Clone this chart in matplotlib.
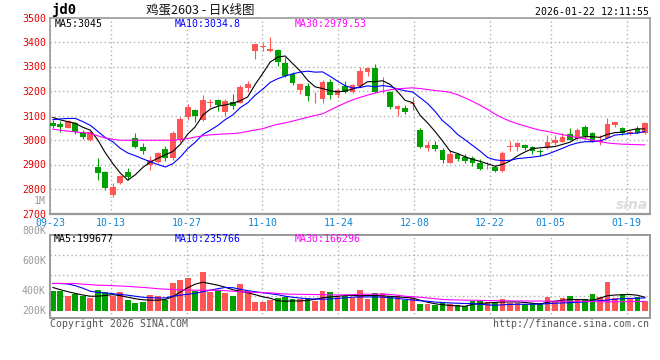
import numpy as np
import matplotlib.pyplot as plt

# jd0 egg futures, daily candles 2025-09-23 .. 2026-01-22 (80 sessions)
dates = ["09-23", "10-13", "10-27", "11-10", "11-24", "12-08", "12-22", "01-05", "01-19"]
date_idx = [0, 8, 18, 28, 38, 48, 58, 66, 76]

opens = [3070, 3067, 3051, 3070, 3032, 2999, 2891, 2870, 2775, 2826,
         2870, 3010, 2972, 2898, 2911, 2962, 2925, 2999, 3092, 3122,
         3081, 3149, 3162, 3115, 3155, 3151, 3214, 3363, 3379, 3363,
         3366, 3314, 3271, 3203, 3220, 3174, 3169, 3237, 3183, 3220,
         3196, 3220, 3278, 3295, 3227, 3196, 3127, 3131, 3147, 3040,
         2968, 2979, 2959, 2907, 2942, 2929, 2925, 2905, 2888, 2888,
         2874, 2973, 2970, 2979, 2970, 2956, 2966, 2986, 2993, 3024,
         3006, 3054, 3030, 2993, 3010, 3061, 3051, 3024, 3043, 3027]
highs = [3081, 3077, 3081, 3075, 3040, 3038, 2925, 2875, 2823, 2858,
         2887, 3027, 2986, 2934, 2952, 2976, 3035, 3094, 3146, 3128,
         3183, 3169, 3169, 3169, 3187, 3223, 3241, 3393, 3395, 3420,
         3370, 3339, 3278, 3233, 3233, 3196, 3244, 3247, 3210, 3241,
         3228, 3298, 3298, 3312, 3257, 3200, 3142, 3142, 3176, 3047,
         2997, 2997, 2966, 2959, 2948, 2942, 2935, 2921, 2911, 2898,
         2955, 2997, 2993, 2983, 2975, 2962, 3020, 3020, 3027, 3047,
         3050, 3061, 3034, 3020, 3088, 3074, 3054, 3040, 3056, 3072]
lows = [3051, 3033, 3047, 3023, 3005, 2995, 2836, 2795, 2768, 2820,
        2837, 2966, 2942, 2877, 2905, 2915, 2920, 2993, 3081, 3074,
        3078, 3135, 3118, 3097, 3125, 3149, 3196, 3332, 3363, 3360,
        3302, 3257, 3223, 3187, 3160, 3151, 3151, 3166, 3176, 3190,
        3192, 3217, 3261, 3190, 3192, 3125, 3097, 3106, 3122, 2966,
        2956, 2956, 2905, 2905, 2916, 2907, 2894, 2877, 2880, 2870,
        2870, 2956, 2956, 2960, 2942, 2934, 2963, 2979, 2990, 2999,
        3002, 3006, 2990, 2979, 3010, 3054, 3020, 3020, 3027, 3024]
closes = [3059, 3054, 3078, 3033, 3013, 3033, 2866, 2803, 2807, 2853,
          2850, 2972, 2955, 2918, 2948, 2925, 3027, 3084, 3133, 3097,
          3162, 3155, 3142, 3160, 3138, 3217, 3230, 3390, 3383, 3370,
          3318, 3261, 3233, 3228, 3180, 3176, 3237, 3183, 3206, 3196,
          3223, 3282, 3295, 3196, 3230, 3133, 3138, 3113, 3150, 2972,
          2979, 2963, 2918, 2942, 2922, 2914, 2907, 2881, 2891, 2874,
          2948, 2975, 2989, 2968, 2956, 2951, 2991, 2999, 3013, 3002,
          3040, 3016, 2993, 3002, 3065, 3074, 3027, 3033, 3030, 3068]

ma5 = [3092, 3082, 3075, 3068, 3052, 3040, 3000, 2948, 2904, 2865,
       2836, 2858, 2888, 2910, 2925, 2940, 2953, 2982, 3024, 3054,
       3101, 3126, 3138, 3143, 3150, 3160, 3176, 3227, 3271, 3318,
       3338, 3343, 3312, 3282, 3244, 3217, 3210, 3201, 3196, 3200,
       3208, 3218, 3238, 3238, 3242, 3227, 3198, 3162, 3153, 3101,
       3070, 3035, 2996, 2955, 2945, 2932, 2921, 2913, 2903, 2893,
       2900, 2914, 2935, 2951, 2965, 2968, 2971, 2973, 2982, 2991,
       3009, 3014, 3013, 3011, 3023, 3030, 3032, 3040, 3046, 3045]
ma10 = [3083, 3086, 3088, 3088, 3075, 3060, 3035, 3010, 2993, 2966,
        2947, 2936, 2923, 2911, 2900, 2890, 2903, 2930, 2965, 2991,
        3022, 3040, 3059, 3083, 3102, 3132, 3152, 3183, 3207, 3235,
        3250, 3261, 3270, 3277, 3281, 3277, 3278, 3260, 3240, 3222,
        3212, 3214, 3221, 3217, 3222, 3218, 3208, 3201, 3196, 3173,
        3149, 3117, 3079, 3054, 3023, 3001, 2978, 2955, 2929, 2919,
        2916, 2917, 2924, 2927, 2930, 2934, 2942, 2954, 2966, 2979,
        2988, 2993, 2993, 2996, 3007, 3020, 3023, 3027, 3028, 3035]
ma30 = [3044, 3040, 3036, 3033, 3030, 3027, 3017, 3008, 3003, 2999,
        2999, 2999, 2999, 2999, 2999, 2999, 2999, 3002, 3006, 3012,
        3017, 3021, 3023, 3025, 3026, 3029, 3035, 3041, 3046, 3056,
        3064, 3070, 3077, 3085, 3093, 3100, 3107, 3122, 3137, 3151,
        3164, 3174, 3183, 3192, 3199, 3205, 3209, 3211, 3213, 3210,
        3206, 3202, 3199, 3195, 3185, 3172, 3158, 3142, 3125, 3106,
        3090, 3077, 3066, 3057, 3048, 3040, 3035, 3028, 3022, 3016,
        3010, 3005, 2999, 2993, 2988, 2985, 2983, 2982, 2981, 2980]

# volume, in K, as read against the panel's labels (bars rise from the 200K line)
vol = [400, 400, 353, 370, 353, 330, 410, 397, 353, 390,
       310, 280, 290, 360, 353, 310, 483, 510, 530, 400,
       590, 390, 410, 380, 350, 470, 400, 290, 290, 310,
       330, 340, 320, 320, 330, 300, 400, 390, 353, 353,
       333, 410, 320, 380, 380, 353, 353, 310, 333, 270,
       270, 260, 283, 270, 260, 250, 300, 300, 293, 283,
       320, 280, 280, 270, 280, 280, 340, 300, 330, 353,
       320, 320, 370, 340, 490, 330, 370, 320, 340, 300]
vol_ma5 = [437, 415, 395, 378, 362, 350, 350, 358, 366, 355,
           340, 325, 315, 310, 310, 318, 345, 392, 435, 470,
           490, 475, 460, 440, 415, 400, 385, 365, 345, 330,
           305, 300, 303, 303, 308, 320, 335, 342, 350, 357,
           358, 354, 358, 357, 353, 349, 344, 338, 333, 310,
           290, 275, 265, 258, 253, 250, 268, 278, 283, 288,
           292, 293, 293, 288, 280, 272, 290, 300, 310, 317,
           317, 315, 310, 330, 355, 362, 365, 367, 360, 340]
vol_ma10 = [477, 477, 472, 455, 430, 400, 388, 383, 375, 368,
            360, 350, 340, 335, 333, 333, 350, 360, 370, 378,
            395, 410, 425, 437, 435, 420, 405, 395, 385, 375,
            365, 350, 340, 332, 325, 322, 320, 322, 328, 335,
            340, 343, 343, 343, 340, 335, 328, 320, 312, 305,
            300, 292, 287, 283, 280, 278, 276, 270, 264, 260,
            264, 268, 270, 270, 270, 272, 276, 280, 283, 286,
            290, 294, 300, 305, 312, 320, 326, 328, 330, 333]
vol_ma30 = [477, 477, 477, 477, 470, 465, 460, 458, 455, 452,
            448, 443, 438, 432, 425, 420, 417, 413, 411, 410,
            410, 410, 410, 405, 400, 395, 392, 388, 385, 383,
            378, 372, 370, 369, 368, 367, 366, 364, 362, 364,
            366, 370, 370, 370, 370, 368, 360, 350, 345, 340,
            333, 325, 318, 315, 313, 311, 310, 308, 307, 306,
            305, 304, 303, 303, 302, 302, 301, 300, 300, 300,
            299, 298, 297, 295, 294, 294, 295, 296, 297, 298]
vol_labels = ["200K", "400K", "600K", "800K"]
vol_label_pos = [200, 400, 700, 1000]

UP = "#ff5555"
DOWN = "#00a000"
GRID = "#b0b0b0"
MONO = "DejaVu Sans Mono"
FS = 7.1


def px(xp, yp):
    # pixel position of the 660x360 picture -> figure fraction
    return xp / 660, 1 - yp / 360


fig = plt.figure(figsize=(6.6, 3.6), dpi=100)
ax = fig.add_axes([50 / 660, 1 - 213.5 / 360, 599.5 / 660, 196 / 360])
axv = fig.add_axes([50 / 660, 1 - 318.3 / 360, 599.5 / 660, 83.6 / 360])

n = len(closes)
x = np.arange(n)
bw = 0.76
cx = x + bw / 2
o = np.array(opens)
c = np.array(closes)
colors = [UP if cc >= oo else DOWN for oo, cc in zip(o, c)]

# the date grid is spread over 0..79 across the full width, like sina does
grid_x = [i * n / (n - 1) for i in date_idx]

# price panel
for gx in grid_x:
    ax.axvline(gx, color=GRID, lw=1, ls=(0, (1, 2)), zorder=0)
for p in range(2800, 3500, 100):
    ax.axhline(p, color=GRID, lw=1, ls=(0, (1, 2)), zorder=0)

ax.vlines(cx, lows, highs, colors=colors, lw=0.8, zorder=2)
ax.bar(x, np.maximum(np.abs(c - o), 3), bw, bottom=np.minimum(o, c), align="edge",
       color=colors, lw=0, zorder=3, antialiased=False)
ax.plot(cx, ma5, color="black", lw=0.8, zorder=4)
ax.plot(cx, ma10, color="#0000ff", lw=0.8, zorder=4)
ax.plot(cx, ma30, color="#ff00ff", lw=0.8, zorder=4)

ax.set_xlim(0, n)
ax.set_ylim(2700, 3500)
ax.set_xticks(grid_x)
ax.set_xticklabels(dates, family=MONO, fontsize=FS, color="#0f84d4")
ax.set_yticks(range(2700, 3501, 100))
ax.set_yticklabels([str(p) for p in range(2700, 3501, 100)], family=MONO, fontsize=FS,
                   color="#e60000")
ax.tick_params(length=0, pad=3)
ax.tick_params(axis="x", pad=3.2)
for s in ax.spines.values():
    s.set_color("#999999")
    s.set_linewidth(1.2)
ax.spines["bottom"].set_linestyle((0, (1, 1)))
ax.spines["bottom"].set_linewidth(1.6)

# volume panel
for gx in grid_x:
    axv.axvline(gx, color=GRID, lw=1, ls=(0, (1, 2)), zorder=0)
for gy in [357, 557, 757]:
    axv.axhline(gy, color=GRID, lw=1, ls=(0, (1, 2)), zorder=0)
axv.bar(x, np.array(vol) - 200, bw, bottom=200, align="edge", color=colors, lw=0,
        zorder=2, antialiased=False)
axv.plot(cx, vol_ma5, color="black", lw=0.8, zorder=3)
axv.plot(cx, vol_ma10, color="#0000ff", lw=0.8, zorder=3)
axv.plot(cx, vol_ma30, color="#ff00ff", lw=0.8, zorder=3)
axv.set_xlim(0, n)
axv.set_ylim(130, 963)
axv.set_xticks([])
axv.set_yticks([])
for lab, v in zip(vol_labels, vol_label_pos):
    axv.text(-0.53, v, lab, ha="right", va="center", family=MONO, fontsize=FS,
             color="#999999", clip_on=False)
for s in axv.spines.values():
    s.set_color("#999999")
    s.set_linewidth(1.4)

# header and captions
fig.text(*px(51, 10), "jd0", ha="left", va="center", family=MONO, fontsize=10,
         fontweight="bold", color="black")
fig.text(*px(200, 10), "鸡蛋2603 - 日K线图", ha="center", va="center",
         family=["Noto Sans CJK SC", "DejaVu Sans"], fontsize=9, color="#111111")
fig.text(*px(649, 12), "2026-01-22 12:11:55", ha="right", va="center", family=MONO,
         fontsize=FS, color="black")

fig.text(*px(55, 24), "MA5:3045", va="center", family=MONO, fontsize=FS, color="black")
fig.text(*px(175, 24), "MA10:3034.8", va="center", family=MONO, fontsize=FS, color="#0000ff")
fig.text(*px(295, 24), "MA30:2979.53", va="center", family=MONO, fontsize=FS, color="#ff00ff")
fig.text(*px(54, 238.5), "MA5:199677", va="center", family=MONO, fontsize=FS, color="black")
fig.text(*px(175, 238.5), "MA10:235766", va="center", family=MONO, fontsize=FS, color="#0000ff")
fig.text(*px(295, 238.5), "MA30:166296", va="center", family=MONO, fontsize=FS, color="#ff00ff")

fig.text(*px(46, 200.7), "1M", ha="right", va="center", family=MONO, fontsize=FS,
         color="#999999")
fig.text(*px(648, 205), "sina", ha="right", va="center", fontsize=10, fontweight="bold",
         fontstyle="italic", color="#dddddd")

fig.text(*px(50, 324), "Copyright 2026 SINA.COM", ha="left", va="center", family=MONO,
         fontsize=FS, color="#555555")
fig.text(*px(649, 324), "http://finance.sina.com.cn", ha="right", va="center", family=MONO,
         fontsize=FS, color="#555555")

fig.savefig("out.png", dpi=100)
